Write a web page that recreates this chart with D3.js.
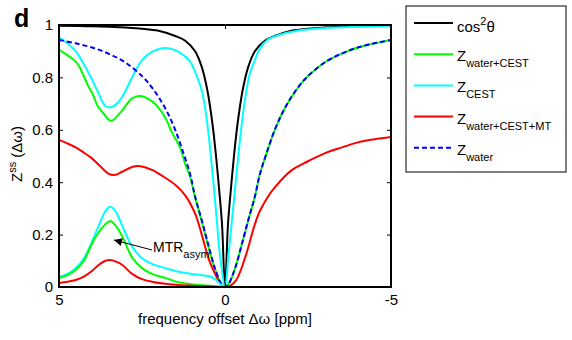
<!DOCTYPE html>
<html>
<head>
<meta charset="utf-8">
<script src="https://cdn.jsdelivr.net/npm/d3@7"></script>
<style>
  body { margin: 0; background: #fff; }
  text { font-family: "Liberation Sans", Arial, sans-serif; }
</style>
</head>
<body>
<div id="chart"></div>
<script>
// Z-spectra (ppm runs from +5 on the left to -5 on the right)
const cosX = [5,4,3,2.5,2,1.5,1.2,0.9,0.7,0.53,0.38,0.27,0.175,0.09,0,-0.09,-0.175,-0.27,-0.38,-0.53,-0.7,-0.9,-1.2,-1.5,-2,-2.5,-3,-4,-5];
const cosY = [0.997,0.995,0.99,0.986,0.978,0.958,0.94,0.9,0.84,0.75,0.625,0.5,0.37,0.24,0,0.24,0.37,0.5,0.625,0.75,0.84,0.9,0.94,0.958,0.978,0.986,0.99,0.995,0.997];

const cestX = [5,4.75,4.5,4.25,4,3.83,3.6,3.45,3.3,3.1,2.8,2.5,2.2,1.8,1.36,1.05,0.9,0.7,0.55,0.45,0.35,0.25,0.15,0,-0.1,-0.2,-0.3,-0.45,-0.6,-0.75,-0.9,-1.05,-1.3,-1.57,-2.17,-3,-4,-5];
const cestY = [0.953,0.93,0.9,0.85,0.79,0.745,0.69,0.686,0.695,0.725,0.8,0.866,0.897,0.912,0.895,0.86,0.82,0.75,0.64,0.53,0.4,0.26,0.12,0,0.115,0.243,0.37,0.56,0.714,0.815,0.866,0.91,0.945,0.96,0.978,0.988,0.993,0.996];

const wcX = [5,4.75,4.46,4.13,4,3.83,3.67,3.43,3.16,2.8,2.56,2.17,1.81,1.6,1.36,1.2,1.05,0.9,0.7,0.5,0.3,0.1,0,-0.1,-0.3,-0.5,-0.7,-0.9,-1.05,-1.25,-1.5,-1.75,-2,-2.25,-2.5,-3,-3.5,-4,-4.5,-5];
const wcY = [0.905,0.885,0.855,0.77,0.74,0.69,0.664,0.634,0.664,0.72,0.729,0.706,0.649,0.59,0.534,0.47,0.42,0.34,0.25,0.155,0.068,0.01,0,0.01,0.07,0.16,0.255,0.345,0.43,0.51,0.6,0.67,0.725,0.77,0.805,0.857,0.89,0.914,0.93,0.943];

const mtX = [5,4.75,4.5,4.25,4,3.75,3.5,3.3,3.1,2.75,2.5,2.2,1.9,1.5,1.2,0.9,0.7,0.5,0.3,0.15,0,-0.3,-0.6,-0.9,-1.05,-1.27,-1.5,-2,-2.5,-3,-3.5,-4,-4.5,-5];
const mtY = [0.561,0.548,0.533,0.513,0.49,0.46,0.432,0.428,0.44,0.46,0.46,0.447,0.425,0.39,0.35,0.28,0.2,0.11,0.05,0.015,0,0.02,0.11,0.24,0.29,0.34,0.38,0.445,0.48,0.51,0.532,0.552,0.564,0.573];

const waterX = [5,4.5,4,3.5,3,2.5,2.25,2,1.75,1.5,1.25,1.05,0.9,0.7,0.5,0.3,0.1,0,-0.1,-0.3,-0.5,-0.7,-0.9,-1.05,-1.25,-1.5,-1.75,-2,-2.25,-2.5,-3,-3.5,-4,-4.5,-5];
const waterY = [0.943,0.93,0.914,0.89,0.857,0.805,0.77,0.725,0.67,0.6,0.51,0.43,0.345,0.255,0.16,0.07,0.01,0,0.01,0.07,0.16,0.255,0.345,0.43,0.51,0.6,0.67,0.725,0.77,0.805,0.857,0.89,0.914,0.93,0.943];

// MTR asym curves, positive side only
const asymX = [5,4.75,4.5,4.25,4,3.8,3.6,3.46,3.3,3.1,2.8,2.5,2.2,1.8,1.4,1,0.7,0.45,0.3,0.15,0];
const asymCest = [0.038,0.05,0.072,0.11,0.175,0.235,0.29,0.306,0.29,0.235,0.155,0.11,0.088,0.072,0.058,0.05,0.045,0.04,0.03,0.012,0];
const asymWc = [0.034,0.045,0.065,0.1,0.168,0.21,0.24,0.252,0.235,0.195,0.113,0.072,0.05,0.035,0.018,0.01,0.007,0.005,0.003,0.001,0];
const asymMt = [0.015,0.02,0.027,0.04,0.062,0.085,0.1,0.103,0.098,0.085,0.05,0.03,0.02,0.012,0.008,0.005,0.003,0.002,0.001,0,0];

const yTicks = [0, 0.2, 0.4, 0.6, 0.8, 1];
const xTicks = [5, 0, -5];

const width = 572, height = 340;
const mLeft = 59, mRight = 391, mTop = 25, mBottom = 287;

const svg = d3.select("#chart").append("svg")
  .attr("width", width).attr("height", height);

const x = d3.scaleLinear().domain([5, -5]).range([mLeft, mRight]);
const y = d3.scaleLinear().domain([0, 1]).range([mBottom, mTop]);

svg.append("clipPath").attr("id", "clip")
  .append("rect").attr("x", mLeft).attr("y", mTop - 2)
  .attr("width", mRight - mLeft).attr("height", mBottom - mTop + 2);

const line = d3.line()
  .x(d => x(d[0])).y(d => y(d[1]))
  .curve(d3.curveCatmullRom.alpha(0.5));

const series = [
  {xs: cosX, ys: cosY, color: "#000000"},
  {xs: wcX, ys: wcY, color: "#00ff00"},
  {xs: cestX, ys: cestY, color: "#00ffff"},
  {xs: mtX, ys: mtY, color: "#ff0000"},
  {xs: waterX, ys: waterY, color: "#0000ff", dash: "5,3"},
  {xs: asymX, ys: asymCest, color: "#00ffff"},
  {xs: asymX, ys: asymWc, color: "#00ff00"},
  {xs: asymX, ys: asymMt, color: "#ff0000"}
];

const plot = svg.append("g").attr("clip-path", "url(#clip)");
series.forEach(s => {
  plot.append("path")
    .datum(d3.zip(s.xs, s.ys))
    .attr("fill", "none")
    .attr("stroke", s.color)
    .attr("stroke-width", 2)
    .attr("stroke-dasharray", s.dash || null)
    .attr("d", line);
});

// axes, ticks pointing inward
const fontSize = 15;
svg.append("g").attr("transform", `translate(${mLeft},0)`)
  .call(d3.axisLeft(y).tickValues(yTicks).tickFormat(d => d).tickSizeInner(-4).tickSizeOuter(0).tickPadding(6))
  .call(g => g.select(".domain").remove());
svg.append("g").attr("transform", `translate(${mRight},0)`)
  .call(d3.axisRight(y).tickValues(yTicks).tickFormat("").tickSizeInner(-4).tickSizeOuter(0))
  .call(g => g.select(".domain").remove());
svg.append("g").attr("transform", `translate(0,${mBottom})`)
  .call(d3.axisBottom(x).tickValues(xTicks).tickFormat(d => d).tickSizeInner(-4).tickSizeOuter(0).tickPadding(7))
  .call(g => g.select(".domain").remove());
svg.append("g").attr("transform", `translate(0,${mTop})`)
  .call(d3.axisTop(x).tickValues(xTicks).tickFormat("").tickSizeInner(-4).tickSizeOuter(0))
  .call(g => g.select(".domain").remove());

svg.selectAll(".tick text")
  .attr("font-family", "Liberation Sans, Arial, sans-serif")
  .attr("font-size", fontSize).attr("fill", "#000");
svg.selectAll(".tick line").attr("stroke", "#000");

svg.append("rect")
  .attr("x", mLeft).attr("y", mTop)
  .attr("width", mRight - mLeft).attr("height", mBottom - mTop)
  .attr("fill", "none").attr("stroke", "#000").attr("stroke-width", 2);

// labels
svg.append("text").attr("x", (mLeft + mRight) / 2).attr("y", 324)
  .attr("text-anchor", "middle").attr("font-size", fontSize)
  .text("frequency offset Δω [ppm]");

const yl = svg.append("text")
  .attr("transform", "translate(22,154) rotate(-90)")
  .attr("text-anchor", "middle").attr("font-size", fontSize);
yl.append("tspan").text("Z");
yl.append("tspan").attr("dy", -6).attr("font-size", 11).text("ss");
yl.append("tspan").attr("dy", 6).text(" (Δω)");

svg.append("text").attr("x", 14).attr("y", 27)
  .attr("font-size", 25).attr("font-weight", "bold").text("d");

// MTR asym annotation
svg.append("defs").append("marker")
  .attr("id", "arrow").attr("viewBox", "0 0 10 10")
  .attr("refX", 10).attr("refY", 5)
  .attr("markerWidth", 12).attr("markerHeight", 8)
  .attr("markerUnits", "userSpaceOnUse")
  .attr("orient", "auto")
  .append("path").attr("d", "M0,0L10,5L0,10z").attr("fill", "#000");

svg.append("line")
  .attr("x1", 152).attr("y1", 250).attr("x2", 114).attr("y2", 240)
  .attr("stroke", "#000").attr("stroke-width", 1)
  .attr("marker-end", "url(#arrow)");

const mtr = svg.append("text").attr("x", 153).attr("y", 252).attr("font-size", 14);
mtr.append("tspan").text("MTR");
mtr.append("tspan").attr("dy", 6).attr("font-size", 11).text("asym");

// legend
const legendItems = [
  {main: "cos", sup: "2", tail: "θ", color: "#000000"},
  {main: "Z", sub: "water+CEST", color: "#00ff00"},
  {main: "Z", sub: "CEST", color: "#00ffff"},
  {main: "Z", sub: "water+CEST+MT", color: "#ff0000"},
  {main: "Z", sub: "water", color: "#0000ff", dash: "5,3"}
];

svg.append("rect")
  .attr("x", 406).attr("y", 6).attr("width", 160).attr("height", 166)
  .attr("fill", "#fff").attr("stroke", "#000").attr("stroke-width", 1);

legendItems.forEach((d, i) => {
  const ly = 23 + i * 31.2;
  svg.append("line")
    .attr("x1", 414).attr("x2", 453).attr("y1", ly).attr("y2", ly)
    .attr("stroke", d.color).attr("stroke-width", 2)
    .attr("stroke-dasharray", d.dash || null);
  const t = svg.append("text").attr("x", 457).attr("font-size", fontSize);
  if (d.sup) {
    t.attr("y", ly + 9);
    t.append("tspan").text(d.main);
    t.append("tspan").attr("dy", -7).attr("font-size", 11).text(d.sup);
    t.append("tspan").attr("dy", 7).text(d.tail);
  } else {
    t.attr("y", ly + 7);
    t.append("tspan").text(d.main);
    t.append("tspan").attr("dy", 6).attr("font-size", 11).text(d.sub);
  }
});
</script>
</body>
</html>
